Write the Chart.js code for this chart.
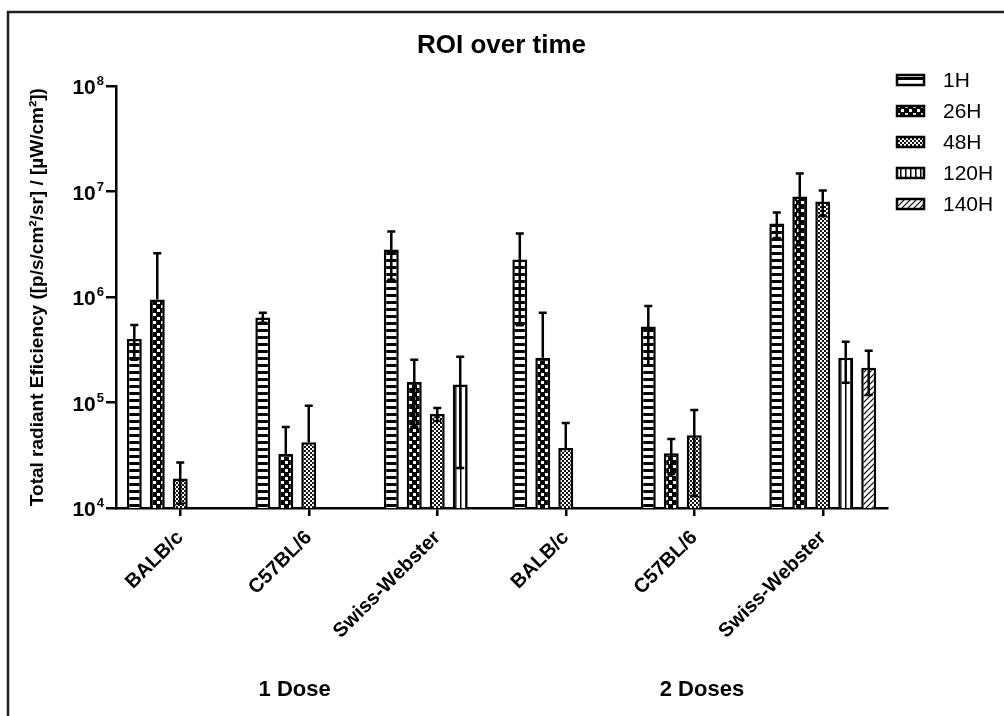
<!DOCTYPE html>
<html>
<head>
<meta charset="utf-8">
<script src="https://cdn.jsdelivr.net/npm/chart.js@4.4.1/dist/chart.umd.min.js"></script>
<style>
  html, body { margin: 0; padding: 0; background: #fff; }
  #wrap { width: 1004px; height: 716px; position: relative; }
</style>
</head>
<body>
<div id="wrap"><canvas id="roiChart" width="1004" height="716"></canvas></div>
<script>
// mouse strains, 1 dose then 2 doses
const categories = ['BALB/c', 'C57BL/6', 'Swiss-Webster', 'BALB/c', 'C57BL/6', 'Swiss-Webster'];
const seriesLabels = ['1H', '26H', '48H', '120H', '140H'];

// mean values per time point
const values1H   = [4.0e5, 6.4e5, 2.83e6, 2.27e6, 5.25e5, 4.99e6];
const values26H  = [9.5e5, 3.26e4, 1.57e5, 2.66e5, 3.3e4, 9.0e6];
const values48H  = [1.9e4, 4.2e4, 7.8e4, 3.7e4, 4.9e4, 8.07e6];
const values120H = [null, null, 1.48e5, null, null, 2.66e5];
const values140H = [null, null, null, null, null, 2.14e5];

// error (SD) per time point
const err1H   = [1.45e5, 0.7e5, 1.37e6, 1.73e6, 3.0e5, 1.35e6];
const err26H  = [1.65e6, 2.6e4, 0.98e5, 4.45e5, 1.2e4, 5.9e6];
const err48H  = [0.8e4, 5.1e4, 1.1e4, 2.7e4, 3.6e4, 2.2e6];
const err120H = [null, null, 1.24e5, null, null, 1.12e5];
const err140H = [null, null, null, null, null, 0.96e5];

const yTickValues = [1e4, 1e5, 1e6, 1e7, 1e8];
const yTickExponents = ['4', '5', '6', '7', '8'];
const groupLabels = ['1 Dose', '2 Doses'];
const groupCenters = [0.89, 4.06];

const FONT = '"Liberation Sans", Arial, Helvetica, sans-serif';

// fill patterns like the prism style hatching
function makePattern(kind) {
    const c = document.createElement('canvas');
    const g = c.getContext('2d');
    if (kind === 'ladder') {
        c.width = 8; c.height = 7;
        g.fillStyle = '#fff'; g.fillRect(0, 0, 8, 7);
        g.fillStyle = '#000'; g.fillRect(0, 0, 8, 3);
    } else if (kind === 'checker') {
        c.width = 8; c.height = 8;
        g.fillStyle = '#000'; g.fillRect(0, 0, 8, 8);
        g.fillStyle = '#fff';
        g.fillRect(1, 1, 3, 3);
        g.fillRect(5, 5, 3, 3);
    } else if (kind === 'fine') {
        c.width = 4; c.height = 4;
        g.fillStyle = '#111'; g.fillRect(0, 0, 4, 4);
        g.fillStyle = '#fff';
        g.fillRect(0, 0, 2, 2);
        g.fillRect(2, 2, 2, 2);
    } else if (kind === 'vlines') {
        c.width = 5; c.height = 5;
        g.fillStyle = '#fff'; g.fillRect(0, 0, 5, 5);
        g.fillStyle = '#000'; g.fillRect(0, 0, 1.5, 5);
    } else {
        c.width = 6; c.height = 6;
        g.fillStyle = '#fff'; g.fillRect(0, 0, 6, 6);
        g.strokeStyle = '#000'; g.lineWidth = 1.2;
        g.beginPath();
        g.moveTo(0, 6); g.lineTo(6, 0);
        g.moveTo(-1, 1); g.lineTo(1, -1);
        g.moveTo(5, 7); g.lineTo(7, 5);
        g.stroke();
    }
    return g.createPattern(c, 'repeat');
}

const seriesValues = [values1H, values26H, values48H, values120H, values140H];
const seriesErrors = [err1H, err26H, err48H, err120H, err140H];
const seriesPatterns = ['ladder', 'checker', 'fine', 'vlines', 'hatch'].map(makePattern);

const datasets = seriesLabels.map((label, k) => ({
    label: label,
    data: seriesValues[k],
    errors: seriesErrors[k],
    backgroundColor: seriesPatterns[k],
    borderColor: '#000',
    borderWidth: 2.5,
    categoryPercentage: 0.894,
    barPercentage: 0.65
}));

// white page + the thin frame line on top/left
const framePlugin = {
    id: 'frame',
    beforeDraw(chart) {
        const ctx = chart.ctx;
        ctx.save();
        ctx.fillStyle = '#fff';
        ctx.fillRect(0, 0, chart.width, chart.height);
        ctx.strokeStyle = '#231f20';
        ctx.lineWidth = 2.5;
        ctx.beginPath();
        ctx.moveTo(8, chart.height + 5);
        ctx.lineTo(8, 12);
        ctx.lineTo(chart.width + 5, 12);
        ctx.stroke();
        ctx.restore();
    }
};

const errorBarPlugin = {
    id: 'errorBars',
    afterDatasetsDraw(chart) {
        const ctx = chart.ctx;
        const yScale = chart.scales.y;
        ctx.save();
        ctx.strokeStyle = '#000';
        ctx.lineWidth = 2.5;
        chart.data.datasets.forEach((ds, k) => {
            const meta = chart.getDatasetMeta(k);
            meta.data.forEach((bar, i) => {
                const v = ds.data[i];
                const e = ds.errors[i];
                if (v == null || e == null) return;
                const x = bar.x;
                const yTop = yScale.getPixelForValue(v + e);
                const lo = v - e;
                const yBot = lo > yScale.min ? yScale.getPixelForValue(lo) : yScale.getPixelForValue(v);
                ctx.beginPath();
                ctx.moveTo(x, yBot);
                ctx.lineTo(x, yTop);
                ctx.moveTo(x - 4, yTop);
                ctx.lineTo(x + 4, yTop);
                if (lo > yScale.min) {
                    ctx.moveTo(x - 4, yBot);
                    ctx.lineTo(x + 4, yBot);
                }
                ctx.stroke();
            });
        });
        ctx.restore();
    }
};

const labelsPlugin = {
    id: 'extraLabels',
    afterDraw(chart) {
        const ctx = chart.ctx;
        const xScale = chart.scales.x;
        const yScale = chart.scales.y;
        ctx.save();
        ctx.fillStyle = '#000';

        // y tick labels: 10 with raised exponent
        ctx.textBaseline = 'alphabetic';
        yTickValues.forEach((v, i) => {
            const y = yScale.getPixelForValue(v);
            ctx.font = 'bold 13px ' + FONT;
            const ew = ctx.measureText(yTickExponents[i]).width;
            ctx.textAlign = 'right';
            ctx.fillText(yTickExponents[i], 104, y - 1);
            ctx.font = 'bold 21px ' + FONT;
            ctx.fillText('10', 104 - ew - 1, y + 8);
        });

        // dose group labels
        ctx.font = 'bold 22px ' + FONT;
        ctx.textAlign = 'center';
        ctx.textBaseline = 'middle';
        groupLabels.forEach((t, i) => {
            ctx.fillText(t, xScale.getPixelForValue(groupCenters[i]), 690);
        });

        // legend
        ctx.font = '21px ' + FONT;
        ctx.textAlign = 'left';
        chart.data.datasets.forEach((ds, k) => {
            const y = 80 + k * 31;
            ctx.fillStyle = ds.backgroundColor;
            ctx.fillRect(897, y - 5, 27, 10);
            ctx.strokeStyle = '#000';
            ctx.lineWidth = 2.5;
            ctx.strokeRect(897, y - 5, 27, 10);
            ctx.fillStyle = '#000';
            ctx.fillText(ds.label, 943, y + 1);
        });
        ctx.restore();
    }
};

new Chart(document.getElementById('roiChart'), {
    type: 'bar',
    data: { labels: categories, datasets: datasets },
    options: {
        responsive: false,
        animation: false,
        layout: { padding: { left: 0, right: 117, top: 0, bottom: 0 } },
        plugins: {
            legend: { display: false },
            tooltip: { enabled: false },
            title: {
                display: true,
                fullSize: false,
                text: 'ROI over time',
                color: '#000',
                font: { family: FONT, size: 26, weight: 'bold', lineHeight: 1.2 },
                padding: { top: 30, bottom: 25 }
            }
        },
        scales: {
            x: {
                offset: true,
                afterFit: s => { s.height = 208; },
                ticks: {
                    autoSkip: false,
                    minRotation: 45,
                    maxRotation: 45,
                    padding: 10,
                    color: '#000',
                    font: { family: FONT, size: 20, weight: 'bold' }
                },
                grid: { offset: false, drawOnChartArea: false, drawTicks: true, tickLength: 8, color: '#000', lineWidth: 2.5 },
                border: { display: true, color: '#000', width: 2.5 }
            },
            y: {
                type: 'logarithmic',
                min: 1e4,
                max: 1e8,
                afterBuildTicks: s => { s.ticks = yTickValues.map(v => ({ value: v })); },
                afterFit: s => { s.width = 116; },
                ticks: { display: false },
                grid: { drawOnChartArea: false, drawTicks: true, tickLength: 10, color: '#000', lineWidth: 2.5 },
                border: { display: true, color: '#000', width: 2.5 },
                title: {
                    display: true,
                    text: 'Total radiant Eficiency ([p/s/cm\u00b2/sr] / [\u00b5W/cm\u00b2])',
                    color: '#000',
                    font: { family: FONT, size: 19, weight: 'bold', lineHeight: 1.2 },
                    padding: { top: 26 }
                }
            }
        }
    },
    plugins: [framePlugin, errorBarPlugin, labelsPlugin]
});
</script>
</body>
</html>
